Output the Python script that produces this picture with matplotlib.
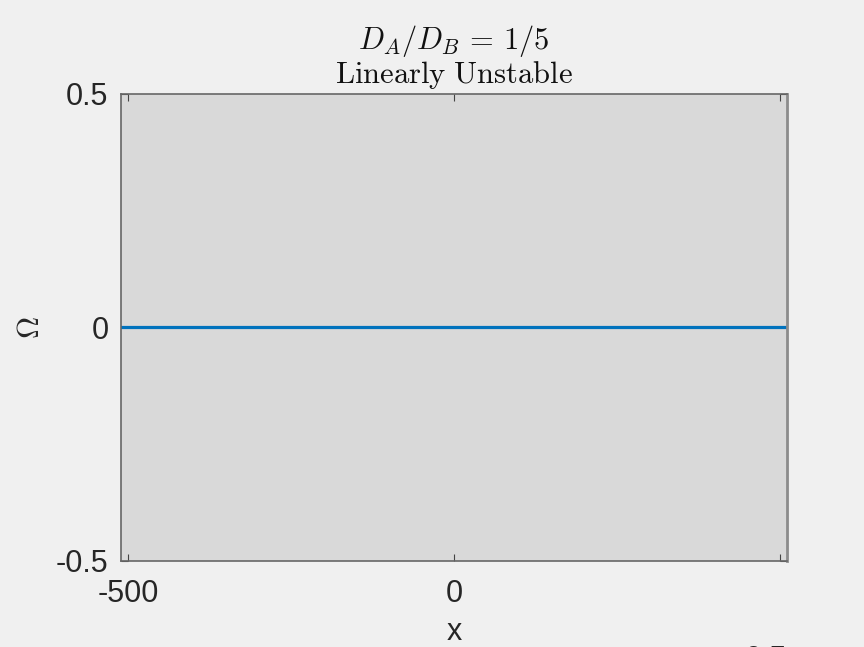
import matplotlib
matplotlib.use("Agg")
import matplotlib.pyplot as plt

# data
x = [-511, 511]
omega = [0, 0]
xticks = [-500, 0, 500]
xticklabels = ['-500', '0', '']
yticks = [-0.5, 0, 0.5]
yticklabels = ['-0.5', '0', '0.5']

plt.rcParams['mathtext.fontset'] = 'cm'
plt.rcParams['font.family'] = ['Liberation Sans', 'DejaVu Sans']

fig = plt.figure(figsize=(8.64, 6.47), dpi=100)
fig.patch.set_facecolor('#f0f0f0')
ax = fig.add_axes([0.140, 0.133, 0.771, 0.722])
ax.set_facecolor('#d9d9d9')

ax.axhline(0, color='#a8a8a8', lw=1.0, zorder=1)
ax.plot(x, omega, color='#0072bd', lw=2.3, zorder=2)

ax.set_xlim(x[0], x[-1])
ax.set_ylim(-0.5, 0.5)
ax.set_xticks(xticks)
ax.set_xticklabels(xticklabels)
ax.set_yticks(yticks)
ax.set_yticklabels(yticklabels)
ax.tick_params(direction='in', length=5, width=0.8, color='#444444',
               labelsize=22, labelcolor='#262626', top=True, right=True)
ax.tick_params(axis='x', pad=13)
ax.tick_params(axis='y', pad=9)

for s in ['top', 'left', 'bottom']:
    ax.spines[s].set_color('#666666')
    ax.spines[s].set_linewidth(1.2)
ax.spines['right'].set_color('#8c8c8c')
ax.spines['right'].set_linewidth(2.0)

ax.set_title(r'$D_A/D_B\,=\,1/5$' + '\n' + r'$\mathrm{Linearly\ Unstable}$',
             fontsize=22, color='#111111', pad=8, linespacing=1.0)
ax.set_xlabel('x', fontsize=22, color='#262626', labelpad=6)
ax.set_ylabel(r'$\Omega$', fontsize=22, color='#262626', labelpad=7)

# clipped label of another axis peeking in at the bottom edge
fig.text(0.887, -0.044, '0.5', fontsize=22, color='#262626', ha='center', va='bottom')

fig.savefig('out.png', dpi=100, facecolor=fig.get_facecolor())
